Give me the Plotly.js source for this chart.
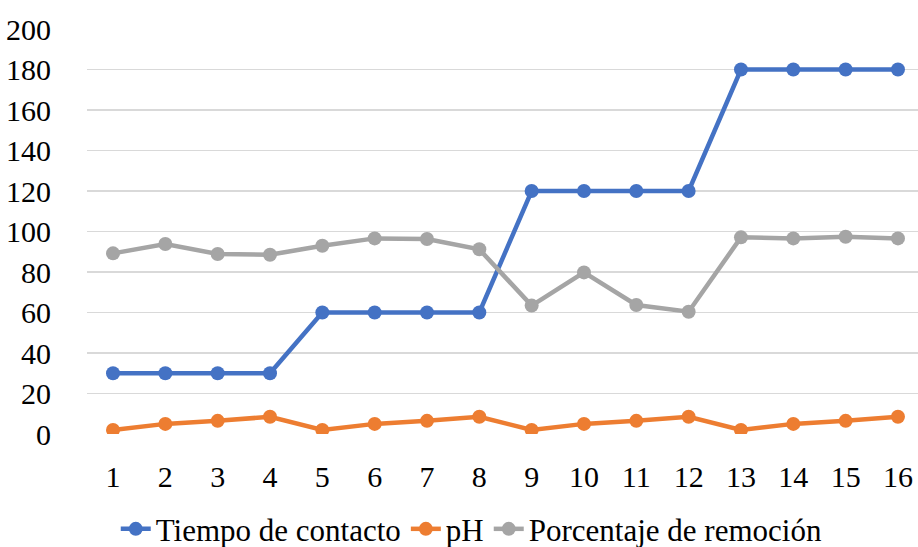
<!DOCTYPE html>
<html>
<head>
<meta charset="utf-8">
<script src="https://cdn.plot.ly/plotly-3.0.1.min.js"></script>
<style>
html,body{margin:0;padding:0;overflow:hidden;background:#fff;}
</style>
</head>
<body>
<div id="chart"></div>
<script>
const categories = ["1","2","3","4","5","6","7","8","9","10","11","12","13","14","15","16"];
const tiempoContacto = [30,30,30,30,60,60,60,60,120,120,120,120,180,180,180,180];
const pH = [2,5,6.5,8.5,2,5,6.5,8.5,2,5,6.5,8.5,2,5,6.5,8.5];
const porcentajeRemocion = [89.2,93.8,88.9,88.5,93,96.6,96.3,91.2,63.4,79.8,63.7,60.4,97.1,96.6,97.4,96.6];

function trace(name, y, color){
  return {
    x: categories, y: y, name: name, type: 'scatter', mode: 'lines+markers',
    line: {color: color, width: 4.5},
    marker: {color: color, size: 14}
  };
}

const data = [
  trace('Tiempo de contacto', tiempoContacto, '#4472C4'),
  trace('pH', pH, '#ED7D31'),
  trace('Porcentaje de remoción', porcentajeRemocion, '#A5A5A5')
];

const layout = {
  width: 918, height: 547,
  margin: {l: 87, r: 0, t: 29, b: 113, autoexpand: false},
  font: {family: 'Liberation Serif', size: 30, color: '#000'},
  showlegend: true,
  legend: {
    orientation: 'h', x: 0.463, xanchor: 'center', y: -0.235, yanchor: 'middle',
    font: {size: 31}
  },
  xaxis: {
    type: 'category', range: [-0.497, 15.383], automargin: false,
    showgrid: false, zeroline: false, showline: false,
    ticks: 'outside', ticklen: 16, tickcolor: 'rgba(0,0,0,0)'
  },
  yaxis: {
    range: [0, 200], dtick: 20, automargin: false,
    showgrid: true, gridcolor: '#D9D9D9', gridwidth: 1.3,
    zeroline: false, showline: false,
    ticks: 'outside', ticklen: 29, tickcolor: 'rgba(0,0,0,0)'
  }
};

Plotly.newPlot('chart', data, layout, {displayModeBar: false, staticPlot: true});
</script>
</body>
</html>
